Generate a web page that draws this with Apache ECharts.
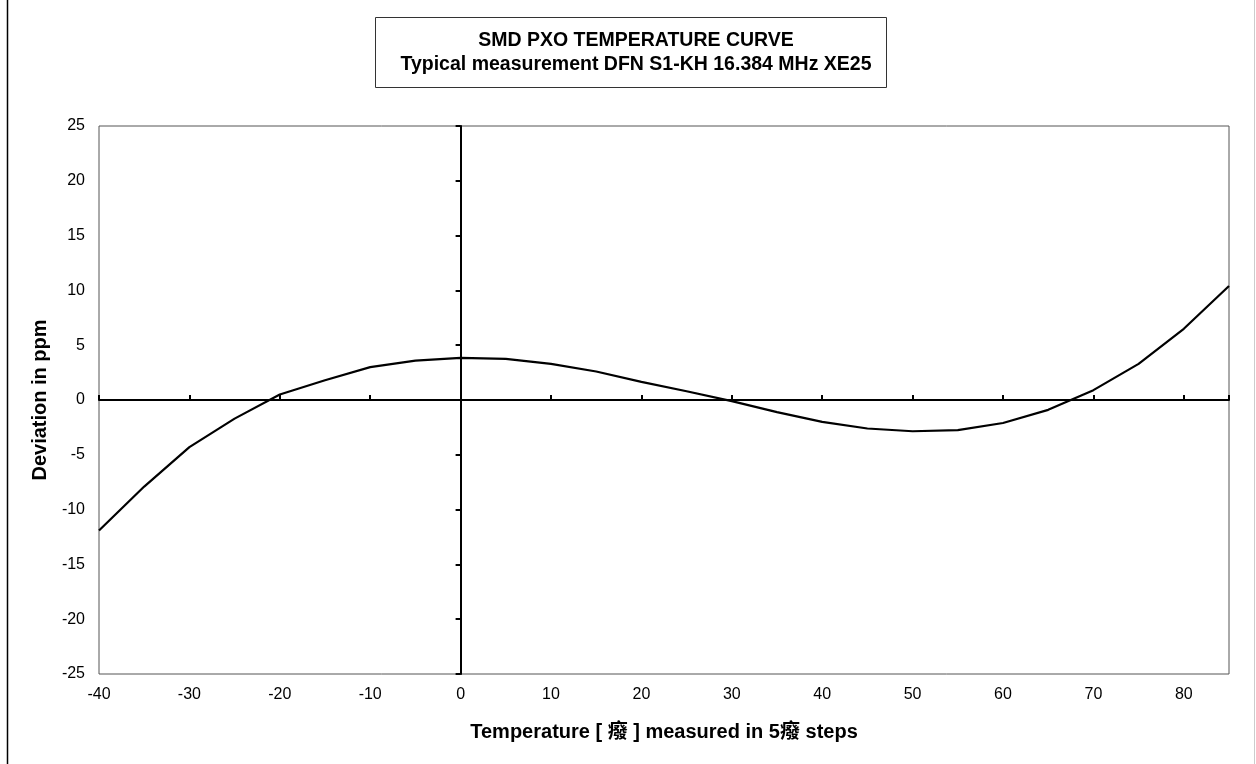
<!DOCTYPE html>
<html>
<head>
<meta charset="utf-8">
<script src="https://cdn.jsdelivr.net/npm/echarts@6/dist/echarts.min.js"></script>
<style>
  html, body { margin: 0; padding: 0; background: #fff; }
  #chart { width: 1256px; height: 764px; }
</style>
</head>
<body>
<div id="chart"></div>
<script>
// temperature steps (°C) and measured deviation (ppm)
const temps = [-40, -35, -30, -25, -20, -15, -10, -5, 0, 5, 10, 15, 20, 25, 30, 35, 40, 45, 50, 55, 60, 65, 70, 75, 80, 85]
const deviation = [-11.9, -7.9, -4.3, -1.7, 0.5, 1.8, 3.0, 3.6, 3.85, 3.75, 3.3, 2.6, 1.65, 0.8, -0.1, -1.1, -2.0, -2.6, -2.85, -2.75, -2.1, -0.9, 0.9, 3.3, 6.5, 10.4]

const titleLines = ['SMD PXO TEMPERATURE CURVE', 'Typical measurement DFN S1-KH 16.384 MHz XE25']
const xName = 'Temperature [ 癈 ] measured in 5癈 steps'
const yName = 'Deviation in ppm'

const font = "'Liberation Sans', Arial, 'Noto Sans CJK SC', sans-serif"

const chart = echarts.init(document.getElementById('chart'))

const xBase = { type: 'value', min: -40, max: 85, interval: 10, position: 'bottom', splitLine: { show: false } }
const yBase = { type: 'value', min: -25, max: 25, interval: 5, position: 'left', splitLine: { show: false } }

chart.setOption({
  animation: false,
  textStyle: { fontFamily: font },
  title: {
    text: titleLines.join('\n'),
    left: 631, top: 24, textAlign: 'center',
    textStyle: { fontSize: 19.5, fontWeight: 'bold', color: '#000', lineHeight: 24, fontFamily: font }
  },
  graphic: [
    { type: 'rect', shape: { x: 375.5, y: 17.5, width: 511, height: 70 }, style: { fill: 'none', stroke: '#333', lineWidth: 1 }, z: 10 },
    { type: 'line', shape: { x1: 7.5, y1: 0, x2: 7.5, y2: 764 }, style: { stroke: '#000', lineWidth: 1.5 } },
    { type: 'line', shape: { x1: 1254.5, y1: 0, x2: 1254.5, y2: 764 }, style: { stroke: '#ccc', lineWidth: 1 } }
  ],
  grid: { left: 99, right: 27, top: 126, bottom: 90, show: true, borderColor: '#555', borderWidth: 1 },
  xAxis: [
    Object.assign({}, xBase, {
      axisLine: { show: false, onZero: false },
      axisTick: { show: false },
      axisLabel: { color: '#000', fontSize: 16, margin: 13, showMaxLabel: false },
      name: xName, nameLocation: 'middle', nameGap: 48,
      nameTextStyle: { fontSize: 20, fontWeight: 'bold', color: '#000' }
    }),
    Object.assign({}, xBase, {
      axisLine: { onZero: true, lineStyle: { color: '#000', width: 2 } },
      axisTick: { inside: true, length: 5, lineStyle: { color: '#000', width: 2 } },
      axisLabel: { show: false }
    })
  ],
  yAxis: [
    Object.assign({}, yBase, {
      axisLine: { show: false, onZero: false },
      axisTick: { show: false },
      axisLabel: { color: '#000', fontSize: 16, margin: 14 },
      name: yName, nameLocation: 'middle', nameGap: 49, nameRotate: 90,
      nameTextStyle: { fontSize: 20, fontWeight: 'bold', color: '#000' }
    }),
    Object.assign({}, yBase, {
      axisLine: { onZero: true, lineStyle: { color: '#000', width: 2 } },
      axisTick: { inside: false, length: 5, lineStyle: { color: '#000', width: 2 } },
      axisLabel: { show: false }
    })
  ],
  series: [{
    type: 'line',
    xAxisIndex: 0, yAxisIndex: 0,
    data: temps.map((t, i) => [t, deviation[i]]),
    showSymbol: false,
    lineStyle: { color: '#000', width: 2.2 },
    z: 5
  }]
})
</script>
</body>
</html>
